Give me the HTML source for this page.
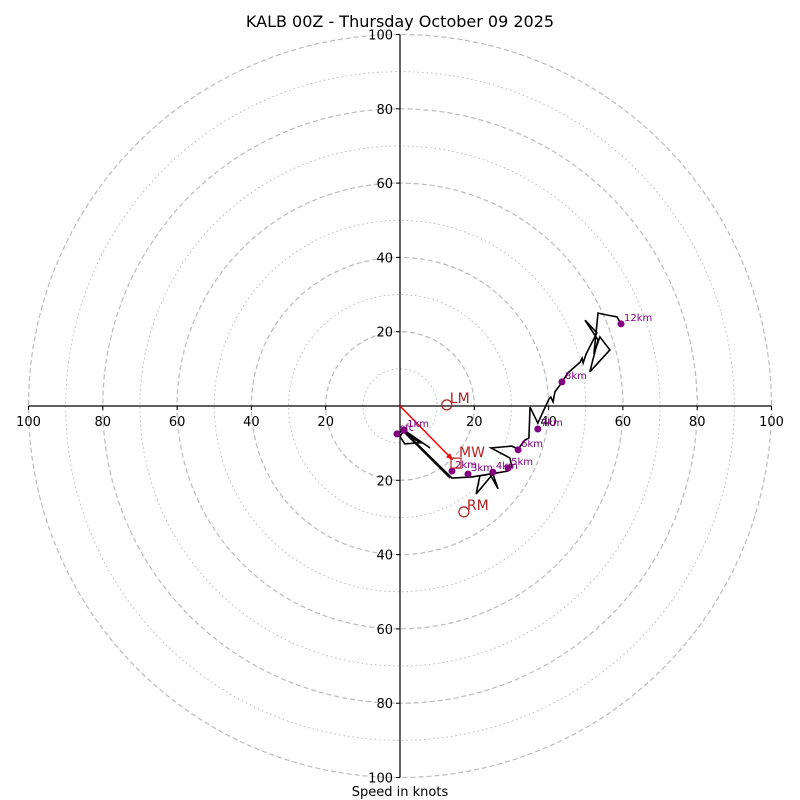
<!DOCTYPE html>
<html><head><meta charset="utf-8"><style>
body{margin:0;background:#fff}
svg{display:block;font-family:"DejaVu Sans","Liberation Sans",sans-serif}
</style></head><body>
<svg id="chart" width="800" height="800" viewBox="0 0 800 800">
<rect width="800" height="800" fill="#fff"/>
<text x="400" y="27" text-anchor="middle" font-size="16" fill="#000">KALB 00Z - Thursday October 09 2025</text>
<text x="400" y="796" text-anchor="middle" font-size="13" fill="#000">Speed in knots</text>
<g id="rings"></g><g id="axes"></g><g id="marks"></g>
</svg>
<script>
const traceU=[-0.8,1.1,8.1,1.1,0.0,1.3,5.4,1.1,13.5,1.3,14.0,19.4,24.2,26.4,25.0,20.5,21.5,29.1,30.1,29.6,24.5,30.1,31.8,33.6,34.7,35.0,37.1,40.1,40.6,41.2,41.7,43.1,45.2,48.5,49.0,49.3,50.1,53.0,49.8,53.3,51.1,56.5,53.8,52.2,53.3,55.7,58.4,59.5];
const traceV=[-7.5,-6.5,-11.3,-6.5,-8.2,-10.2,-9.9,-7.0,-19.4,-7.0,-19.4,-19.1,-18.3,-22.3,-18.3,-23.7,-18.8,-17.5,-16.4,-14.0,-11.3,-10.8,-11.6,-9.2,-8.6,-0.3,-4.6,1.9,2.4,1.1,3.8,5.7,8.9,11.8,12.9,11.6,14.0,19.7,23.1,17.8,9.2,15.1,18.6,14.0,25.0,24.5,24.0,22.1];
const heightLabels=["sfc","1km","2km","3km","4km","5km","6km","7km","8km","12km"];
const heightU=[-0.8,1.1,14.0,18.3,25.0,29.1,31.8,37.1,43.6,59.5];
const heightV=[-7.5,-6.5,-17.5,-18.3,-17.8,-16.7,-11.8,-6.2,6.5,22.1];
const stormLabels=["LM","MW","RM"];
const stormU=[12.6,14.0,17.2];
const stormV=[0.3,-14.3,-28.5];
const tickValues=[20,40,60,80,100];

const NS="http://www.w3.org/2000/svg";
const cx=400,cy=406,s=3.715;
const X=u=>cx+u*s, Y=v=>cy-v*s;
function mk(tag,attrs,parent){const e=document.createElementNS(NS,tag);for(const k in attrs)e.setAttribute(k,attrs[k]);parent.appendChild(e);return e;}
const rings=document.getElementById('rings'),axes=document.getElementById('axes'),marks=document.getElementById('marks');
for(let r=10;r<=100;r+=10){
  const c=mk('circle',{cx:cx,cy:cy,r:r*s,fill:'none',stroke:'#bbb','stroke-width':r%20?1:1.2,'stroke-dasharray':r%20?'1.5,3':'5,3'},rings);
  
  
}
const hx=mk('line',{x1:X(-100),y1:cy,x2:X(100),y2:cy,stroke:'#000','stroke-width':1.2},axes);


const vy=mk('line',{x1:cx,y1:Y(100),x2:cx,y2:Y(-100),stroke:'#000','stroke-width':1.2},axes);


tickValues.forEach(t=>{[t,-t].forEach(d=>{
  mk('line',{x1:X(d),y1:cy,x2:X(d),y2:cy+4,stroke:'#000'},axes);
  const tx=mk('text',{x:X(d),y:cy+20,'text-anchor':'middle','font-size':13},axes);
  tx.textContent=t;
  
  
  mk('line',{x1:cx-4,y1:Y(d),x2:cx,y2:Y(d),stroke:'#000'},axes);
  const ty=mk('text',{x:cx-7,y:Y(d)+5,'text-anchor':'end','font-size':13},axes);
  ty.textContent=t;
  
  
});});
const mw=mk('line',{x1:cx,y1:cy,x2:X(stormU[1]),y2:Y(stormV[1]),stroke:'#e00','stroke-width':1.5},marks);


const ah=mk('polygon',{points:(X(stormU[1])+1)+','+(Y(stormV[1])+1)+' '+(X(stormU[1])-6)+','+(Y(stormV[1])-2)+' '+(X(stormU[1])-2)+','+(Y(stormV[1])-6),fill:'#e00'},marks);


const pts=traceU.map((u,i)=>X(u)+','+Y(traceV[i])).join(' ');
const tr=mk('polyline',{points:pts,fill:'none',stroke:'#000','stroke-width':1.6,'stroke-linejoin':'miter'},marks);


heightLabels.forEach((l,i)=>{
  const d=mk('circle',{cx:X(heightU[i]),cy:Y(heightV[i]),r:3.5,fill:'#800080'},marks);
  
  
  const t=mk('text',{x:X(heightU[i])+3,y:Y(heightV[i])-3,'font-size':10,fill:'#800080'},marks);
  t.textContent=l;
  
  
});
stormLabels.forEach((l,i)=>{
  const x=X(stormU[i]),y=Y(stormV[i]);
  let m;
  if(l==='MW'){m=mk('rect',{x:x-1,y:y-1,width:10,height:10,fill:'none',stroke:'#b22222','stroke-width':1.2},marks);}
  else{m=mk('circle',{cx:x,cy:y,r:5,fill:'none',stroke:'#b22222','stroke-width':1.2},marks);}
  
  
  const t=mk('text',{x:x+(l==='MW'?7:3),y:y-2,'font-size':14,fill:'#b22222'},marks);
  t.textContent=l;
  
  
});
</script>
</body></html>
